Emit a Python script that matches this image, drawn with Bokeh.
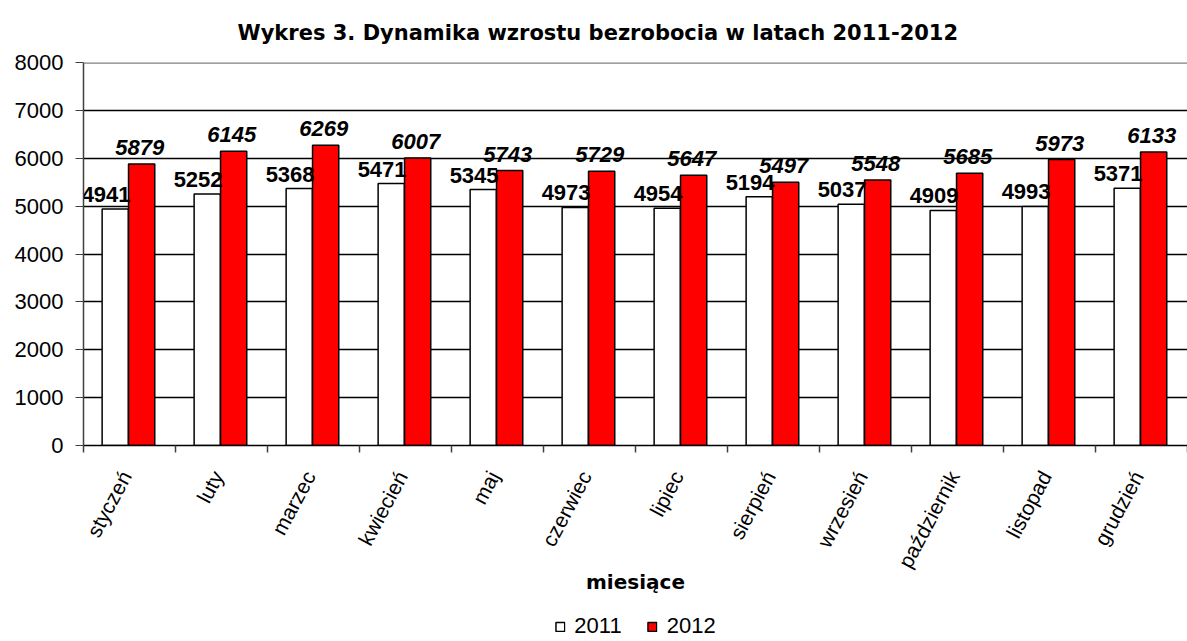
import math
from bokeh.plotting import figure
from bokeh.layouts import column
from bokeh.models import (Range1d, FixedTicker, Span, Legend, LegendItem,
                          ColumnDataSource)
from bokeh.transform import dodge
from bokeh.core.properties import value
from bokeh.embed import file_html
from bokeh.resources import INLINE

months = ["styczeń", "luty", "marzec", "kwiecień", "maj", "czerwiec",
          "lipiec", "sierpień", "wrzesień", "październik", "listopad", "grudzień"]
y2011 = [4941, 5252, 5368, 5471, 5345, 4973, 4954, 5194, 5037, 4909, 4993, 5371]
y2012 = [5879, 6145, 6269, 6007, 5743, 5729, 5647, 5497, 5548, 5685, 5973, 6133]
y_ticks = [0, 1000, 2000, 3000, 4000, 5000, 6000, 7000, 8000]
series_names = ["2011", "2012"]
colors = ["white", "#ff0000"]

idx = list(range(len(months)))
src = ColumnDataSource(dict(
    idx=idx, month=months, y2011=y2011, y2012=y2012,
    l2011=[str(v) for v in y2011], l2012=[str(v) for v in y2012]))

FONT = "Liberation Sans"

p = figure(width=1187, height=609,
           x_range=Range1d(0, len(months)), y_range=Range1d(y_ticks[0], y_ticks[-1]),
           output_backend="svg", toolbar_location=None,
           min_border_left=83, min_border_right=0,
           min_border_top=62, min_border_bottom=164)
p.outline_line_color = None
p.background_fill_color = "white"

# title
p.title.text = "Wykres 3. Dynamika wzrostu  bezrobocia w latach 2011-2012"
p.title.align = "left"
p.title.text_font = "DejaVu Sans"
p.title.text_font_style = "bold"
p.title.text_font_size = "21px"
p.title.text_color = "black"
p.title.offset = 154
p.title.standoff = 35

# grid
p.xgrid.visible = False
p.ygrid.ticker = FixedTicker(ticks=y_ticks[1:-1])
p.ygrid.grid_line_color = "black"
p.ygrid.grid_line_width = 1.5
p.add_layout(Span(location=y_ticks[-1], dimension="width",
                  line_color="#808080", line_width=2.5))

# bars
r1 = p.vbar(x=dodge("idx", 0.345, range=p.x_range), top="y2011", bottom=0,
            width=0.285, fill_color=colors[0], line_color="black",
            line_width=1.5, source=src)
r2 = p.vbar(x=dodge("idx", 0.632, range=p.x_range), top="y2012", bottom=0,
            width=0.285, fill_color=colors[1], line_color="black",
            line_width=1.5, source=src)

# data labels
p.text(x=dodge("idx", 0.49, range=p.x_range), y="y2011", text="l2011",
       text_align="right", text_baseline="bottom", y_offset=-7, x_offset=2,
       text_font=value(FONT), text_font_style="bold", text_font_size="22px",
       text_color="black", source=src)
p.text(x=dodge("idx", 0.632, range=p.x_range), y="y2012", text="l2012",
       text_align="center", text_baseline="bottom", y_offset=-9, x_offset=-2,
       text_font=value(FONT), text_font_style="bold italic", text_font_size="22px",
       text_color="black", source=src)

# y axis
p.yaxis.ticker = FixedTicker(ticks=y_ticks)
p.yaxis.major_label_text_font = FONT
p.yaxis.major_label_text_font_size = "22px"
p.yaxis.major_label_text_color = "black"
p.yaxis.major_label_standoff = 12
p.yaxis.major_tick_in = 0
p.yaxis.major_tick_out = 8
p.yaxis.major_tick_line_color = "#404040"
p.yaxis.axis_line_color = "#404040"
p.yaxis.axis_line_width = 1.5
p.yaxis.minor_tick_line_color = None

# x axis
p.xaxis.ticker = FixedTicker(ticks=[i + 0.46 for i in idx],
                             minor_ticks=idx + [len(months)])
p.xaxis.major_label_overrides = {i + 0.46: m for i, m in zip(idx, months)}
p.xaxis.major_label_orientation = 62 * math.pi / 180
p.xaxis.major_label_text_font = FONT
p.xaxis.major_label_text_font_size = "21px"
p.xaxis.major_label_text_color = "black"
p.xaxis.major_label_standoff = 20
p.xaxis.major_tick_in = 0
p.xaxis.major_tick_out = 0
p.xaxis.minor_tick_in = 0
p.xaxis.minor_tick_out = 7
p.xaxis.minor_tick_line_color = "#404040"
p.xaxis.minor_tick_line_width = 1.5
p.xaxis.axis_line_color = "black"
p.xaxis.axis_line_width = 1.5
p.xaxis.axis_label = "miesiące"
p.xaxis.axis_label_text_font = "DejaVu Sans"
p.xaxis.axis_label_text_font_style = "bold"
p.xaxis.axis_label_text_font_size = "20px"
p.xaxis.axis_label_text_color = "black"
p.xaxis.axis_label_standoff = -10

# legend in a small strip figure below
lg = figure(width=1187, height=32, x_range=Range1d(0, 1), y_range=Range1d(0, 1),
            output_backend="svg", toolbar_location=None,
            min_border_left=83, min_border_right=0,
            min_border_top=0, min_border_bottom=0)
lg.axis.visible = False
lg.grid.visible = False
lg.outline_line_color = None
# legend-only renderers: zero-size bars, nothing visible is drawn
d1 = lg.vbar(x=[0.5], top=[0], bottom=[0], width=0, fill_color=colors[0],
             line_color="black", line_width=1.5)
d2 = lg.vbar(x=[0.5], top=[0], bottom=[0], width=0, fill_color=colors[1],
             line_color="black", line_width=1.5)
legend = Legend(items=[LegendItem(label=series_names[0], renderers=[d1]),
                       LegendItem(label=series_names[1], renderers=[d2])],
                orientation="horizontal", location="bottom_center")
legend.label_text_font = FONT
legend.label_text_font_size = "22px"
legend.label_text_color = "black"
legend.glyph_width = 11
legend.glyph_height = 11
legend.label_standoff = 9
legend.spacing = 25
legend.padding = 0
legend.margin = 2
legend.border_line_color = None
legend.background_fill_alpha = 0
lg.add_layout(legend, "center")

open("out.html", "w").write(file_html(column(p, lg, spacing=0), INLINE))
